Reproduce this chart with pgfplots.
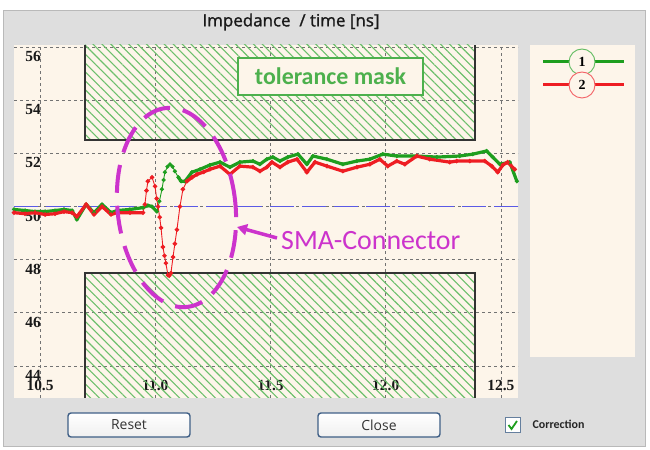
\documentclass[border=0pt]{standalone}
\usepackage{fontspec}
\setmainfont{Liberation Serif}
\newfontfamily\carlito{Carlito}
\newfontfamily\osans{Open Sans}
\newfontfamily\osanssb[FakeBold=1.2]{Open Sans}
\usepackage{pgfplots}
\pgfplotsset{compat=1.18}
\usepackage{pgfplotstable}
\usetikzlibrary{patterns.meta,arrows.meta}

\definecolor{cream}{HTML}{FDF5EA}
\definecolor{wingray}{HTML}{DEDEDE}
\definecolor{hatchg}{HTML}{6CBF6C}
\definecolor{cgreen}{HTML}{1E9E1E}
\definecolor{cred}{HTML}{EE1D23}
\definecolor{cblue}{HTML}{5A5AE6}
\definecolor{mag}{HTML}{CC33CC}
\definecolor{tgreen}{HTML}{4DB04D}
\definecolor{btnborder}{HTML}{3F5F86}

\pgfplotstableread{
x y
10.387 49.77
10.435 49.73
10.478 49.77
10.522 49.70
10.565 49.73
10.604 49.81
10.639 49.77
10.660 49.62
10.700 50.08
10.734 49.70
10.769 50.00
10.808 49.70
10.834 49.77
10.890 49.77
10.947 49.77
10.955 50.08
10.962 50.60
10.968 50.95
10.986 51.10
10.999 50.76
11.006 50.30
11.012 50.00
11.019 49.60
11.025 49.20
11.033 48.48
11.040 48.15
11.046 47.87
11.055 47.42
11.061 47.40
11.068 47.50
11.077 48.10
11.085 48.60
11.094 49.13
11.107 50.00
11.120 50.65
11.137 50.95
11.160 51.10
11.181 51.21
11.210 51.30
11.237 51.40
11.281 51.52
11.324 51.21
11.367 51.52
11.424 51.48
11.454 51.33
11.484 51.48
11.506 51.67
11.541 51.48
11.575 51.67
11.615 51.78
11.658 51.29
11.693 51.67
11.745 51.52
11.814 51.33
11.875 51.48
11.931 51.59
11.974 51.78
12.009 51.52
12.048 51.71
12.083 51.59
12.135 51.90
12.191 51.78
12.278 51.67
12.308 51.71
12.365 51.71
12.430 51.71
12.460 51.52
12.486 51.29
12.508 51.56
12.529 51.67
12.560 51.40
}\redtab

\pgfplotstableread{
x y
10.387 49.89
10.435 49.85
10.478 49.81
10.522 49.81
10.565 49.85
10.604 49.89
10.639 49.85
10.660 49.51
10.700 50.08
10.734 49.77
10.769 50.08
10.808 49.77
10.834 49.85
10.890 49.89
10.947 49.96
10.968 50.04
10.986 50.00
11.007 49.81
11.018 50.20
11.029 50.65
11.036 51.00
11.042 51.29
11.053 51.50
11.064 51.59
11.075 51.50
11.085 51.33
11.100 51.10
11.112 50.95
11.129 50.95
11.159 51.29
11.194 51.40
11.237 51.56
11.281 51.67
11.324 51.48
11.367 51.67
11.424 51.71
11.454 51.59
11.484 51.78
11.510 51.86
11.541 51.71
11.575 51.86
11.619 51.97
11.658 51.59
11.684 51.90
11.745 51.78
11.814 51.59
11.875 51.71
11.931 51.78
11.987 51.97
12.048 51.90
12.135 51.90
12.222 51.86
12.321 51.90
12.378 51.97
12.438 52.09
12.464 51.86
12.495 51.59
12.538 51.67
12.569 50.95
}\greentab

\begin{document}
\begin{tikzpicture}[x=1bp,y=1bp]
\useasboundingbox (0,0) rectangle (650bp,450bp);
\fill[white] (0,0) rectangle (650bp,450bp);
\fill[wingray] (3bp,4bp) rectangle (645bp,440bp);
\draw[gray!55, line width=0.8bp] (3bp,4bp) rectangle (645bp,440bp);

\begin{axis}[
  at={(14bp,52bp)}, anchor=south west,
  scale only axis, width=504bp, height=353bp,
  xmin=10.387, xmax=12.574, ymin=42.80, ymax=56.075,
  axis background/.style={fill=cream},
  axis line style={draw=none},
  major tick length=0pt,
  xtick={10.5,11,11.5,12,12.5},
  xticklabels={10.5,11.0,11.5,12.0,12.5},
  ytick={44,46,48,50,52,54,56},
  grid=major,
  major grid style={black!55, dash pattern=on 3bp off 3bp, line width=0.9bp},
  /pgf/number format/assume math mode=true,
  ticklabel style={font=\bfseries\fontsize{15.5}{15.5}\selectfont, inner sep=1bp, text=black!90},
  xticklabel style={anchor=south, yshift=6bp},
  yticklabel style={anchor=north, xshift=19bp, yshift=-3bp},
  clip=false,
]
% tolerance mask (hatched)
\addplot[draw=none, pattern={Lines[angle=-45,distance=6.3bp,line width=1.1bp]}, pattern color=hatchg]
  coordinates {(10.695,52.5) (12.387,52.5) (12.387,56.075) (10.695,56.075)} -- cycle;
\addplot[draw=none, pattern={Lines[angle=-45,distance=6.3bp,line width=1.1bp]}, pattern color=hatchg]
  coordinates {(10.695,42.80) (12.387,42.80) (12.387,47.5) (10.695,47.5)} -- cycle;
\addplot[black!80, line width=1.3bp] coordinates {(10.695,56.075) (10.695,52.5) (12.387,52.5) (12.387,56.075)};
\addplot[black!80, line width=1.3bp] coordinates {(10.695,42.80) (10.695,47.5) (12.387,47.5) (12.387,42.80)};
% reference level
\addplot[cblue, line width=1.8bp, dash pattern=on 24bp off 8bp] coordinates {(10.387,50) (12.574,50)};
% curve 1 (green)
\addplot[cgreen, line width=0.9bp, mark=*, mark size=1.6bp, mark options={draw=none, fill=cgreen}] table[x=x,y=y] {\greentab};
\addplot[cgreen, line width=3.2bp, line join=round, restrict x to domain=10.3:11.01] table[x=x,y=y] {\greentab};
\addplot[cgreen, line width=3.2bp, line join=round, restrict x to domain=11.09:12.6] table[x=x,y=y] {\greentab};
% curve 2 (red)
\addplot[cred, line width=0.9bp, mark=*, mark size=1.8bp, mark options={draw=none, fill=cred}] table[x=x,y=y] {\redtab};
\addplot[cred, line width=3.2bp, line join=round, restrict x to domain=10.3:10.95] table[x=x,y=y] {\redtab};
\addplot[cred, line width=3.2bp, line join=round, restrict x to domain=11.13:12.6] table[x=x,y=y] {\redtab};
\end{axis}

% tolerance mask label
\node[draw=tgreen, line width=1.5bp, fill=cream, minimum width=185bp, minimum height=37bp,
      text=tgreen, font=\carlito\bfseries\fontsize{24}{24}\selectfont] at (330.5bp,373.5bp) {tolerance mask};

% annotation
\draw[mag, line width=4bp, dash pattern=on 28bp off 13bp, rotate around={6:(176.5bp,242.5bp)}]
  (176.5bp,242.5bp) ellipse [x radius=59bp, y radius=100bp];
\draw[mag, line width=3.5bp, -{Triangle[length=10bp,width=11bp]}] (277bp,212bp) -- (237bp,223bp);
\node[anchor=west, text=mag, font=\carlito\fontsize{28}{28}\selectfont, inner sep=0] at (281bp,209bp) {SMA-Connector};

% legend panel
\fill[cream] (530bp,93bp) rectangle (635bp,405bp);
\draw[cgreen, line width=3bp] (543bp,388bp) -- (624bp,388bp);
\draw[cred, line width=3bp] (543bp,365bp) -- (624bp,365bp);
\node[circle, draw=cgreen!70, fill=cream, line width=0.9bp, minimum size=26bp, inner sep=0,
      font=\bfseries\fontsize{14}{14}\selectfont] at (582bp,388bp) {1};
\node[circle, draw=cred!70, fill=cream, line width=0.9bp, minimum size=26bp, inner sep=0,
      font=\bfseries\fontsize{14}{14}\selectfont] at (582bp,365bp) {2};

% title
\node[font=\osanssb\fontsize{17}{17}\selectfont, text=black!90] at (291bp,428bp) {Impedance\ \ / time [ns]};

% buttons
\draw[btnborder, line width=1.4bp, rounded corners=3bp, top color=white, bottom color=gray!12] (68bp,13bp) rectangle (190bp,37bp);
\node[font=\osans\fontsize{14}{14}\selectfont, text=black!80] at (129bp,25bp) {Reset};
\draw[btnborder, line width=1.4bp, rounded corners=3bp, top color=white, bottom color=gray!12] (318bp,13bp) rectangle (440bp,37bp);
\node[font=\osans\fontsize{14}{14}\selectfont, text=black!80] at (379bp,25bp) {Close};
\draw[btnborder!80, line width=1bp, fill=white] (505bp,17bp) rectangle (520bp,32bp);
\draw[cgreen, line width=1.8bp] (508.5bp,25bp) -- (511.5bp,21bp) -- (517bp,29bp);
\node[anchor=west, font=\carlito\bfseries\fontsize{12}{12}\selectfont, text=black!85] at (529bp,25.5bp) {Correction};
\end{tikzpicture}
\end{document}
